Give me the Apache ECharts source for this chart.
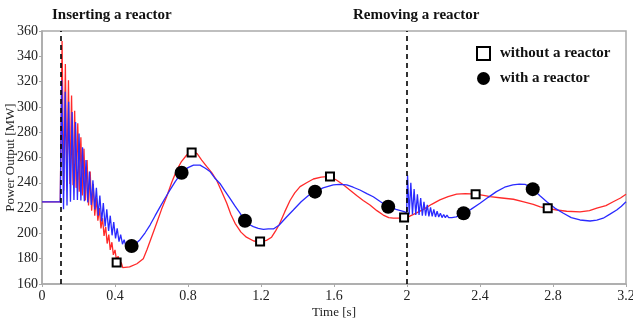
<!DOCTYPE html>
<html>
<head>
<meta charset="utf-8">
<script src="https://cdn.jsdelivr.net/npm/echarts@6/dist/echarts.min.js"></script>
<style>html,body{margin:0;padding:0;background:#fff}#c{width:633px;height:320px}</style>
</head>
<body>
<div id="c"></div>
<script>
// ---- data ----
const xTicks = [0, 0.4, 0.8, 1.2, 1.6, 2, 2.4, 2.8, 3.2];
const yTicks = [160, 180, 200, 220, 240, 260, 280, 300, 320, 340, 360];
const eventTimes = [0.1, 2.0];
const eventLabels = ['Inserting a reactor', 'Removing a reactor'];
const legendNames = ['without a reactor', 'with a reactor'];

// Power output without a reactor (red) [time s, MW]
const withoutReactor = [
  [0,225],[0.1,225],
  [0.110,352],[0.119,234],[0.128,334],[0.136,238],[0.145,321],[0.153,239],[0.162,309],[0.170,238],
  [0.179,297],[0.187,236],[0.196,287],[0.204,233],[0.213,276],[0.221,230],[0.230,267],[0.238,226],
  [0.247,258],[0.255,222],[0.264,249],[0.272,218],[0.281,239],[0.289,214],[0.298,228],[0.306,210],
  [0.315,220],[0.323,204],[0.332,212],[0.340,198],[0.349,205],[0.357,192],[0.366,199],[0.374,187],
  [0.383,193],[0.391,183],[0.400,187],[0.408,179],[0.417,182],[0.425,175],[0.434,177],[0.442,173],
  [0.45,172.5],[0.48,173.5],[0.52,176],[0.555,180],[0.575,187],[0.60,197],[0.628,208],[0.655,219],
  [0.683,229],[0.71,240],[0.738,250],[0.765,257],[0.793,262],[0.82,265],[0.85,263],[0.875,258],
  [0.902,253],[0.93,248],[0.957,242],[0.985,233],[1.012,224],[1.035,215],[1.058,208],[1.09,201],
  [1.12,197],[1.16,194],[1.195,193.5],[1.23,194.5],[1.258,197],[1.28,202],[1.30,207],[1.33,217],
  [1.359,226],[1.385,232],[1.414,237],[1.45,240],[1.487,243],[1.53,244.5],[1.578,245],[1.615,242],
  [1.651,238.5],[1.69,234],[1.724,230],[1.76,226],[1.797,222.5],[1.835,218],[1.87,214.5],[1.90,212.5],
  [1.925,212],[1.955,212],[1.984,212.5],[2.007,213],[2.05,216],[2.09,219],[2.135,223],[2.18,226.5],
  [2.225,229],[2.272,231],[2.32,231.5],[2.376,231],[2.42,230],[2.455,229],[2.52,228],[2.583,227],
  [2.64,225],[2.692,223],[2.73,221],[2.771,219.8],[2.82,218.5],[2.875,217.5],[2.948,217],[3.0,218],
  [3.04,220],[3.09,222],[3.13,225],[3.17,228],[3.2,231]
];

// Power output with a reactor (blue) [time s, MW]
const withReactor = [
  [0,225],[0.1,225],
  [0.108,321],[0.118,219],[0.127,312],[0.137,222],[0.146,304],[0.156,225],[0.165,296],[0.175,226.5],
  [0.184,288],[0.194,226.5],[0.203,279],[0.213,226],[0.222,268],[0.232,225.5],[0.241,258],[0.251,224.5],
  [0.260,249],[0.270,222.5],[0.279,242],[0.289,219],[0.298,236],[0.308,214],[0.317,230],[0.327,209.5],
  [0.336,224],[0.346,205.5],[0.355,219],[0.365,202],[0.374,214],[0.384,198.5],[0.393,209],[0.403,196],
  [0.412,204],[0.422,193.5],[0.431,199],[0.441,191.5],[0.450,195],[0.460,189.5],[0.469,192],[0.479,188.5],
  [0.491,190],[0.51,191.5],[0.537,195],[0.565,200.5],[0.592,206.6],[0.62,214],[0.647,221],[0.675,228],
  [0.70,234],[0.73,241],[0.765,248],[0.80,252],[0.83,254],[0.866,254],[0.895,251.5],[0.92,249],
  [0.945,244],[0.975,239.5],[1.0,234],[1.03,227.7],[1.058,221.5],[1.085,216],[1.112,210],[1.135,207],
  [1.158,205.3],[1.185,204],[1.213,203.2],[1.24,203.5],[1.268,203.5],[1.30,206.6],[1.34,213],[1.377,218.5],
  [1.42,225],[1.46,230],[1.496,233],[1.54,236],[1.596,238.3],[1.63,238.8],[1.67,238.3],[1.705,236.5],
  [1.742,234.3],[1.78,231.5],[1.815,229],[1.855,225],[1.897,221.1],[1.94,219],[1.984,217.2],[1.998,216.5],
  [2.003,246],[2.012,215],[2.021,240],[2.030,215],[2.039,235],[2.048,214.5],[2.057,231],[2.066,214.5],
  [2.075,228],[2.084,214],[2.093,225],[2.102,214],[2.111,222.5],[2.120,213.5],[2.129,220.5],[2.138,213.5],
  [2.147,219],[2.156,213],[2.165,217.5],[2.174,213],[2.183,216],[2.192,212.5],[2.201,215],[2.210,212.5],
  [2.219,214.5],[2.228,212.5],[2.237,214],[2.246,212.5],
  [2.27,213],[2.31,215.9],[2.35,219],[2.40,223.8],[2.445,228.5],[2.49,233],[2.535,236.5],[2.58,238.3],
  [2.615,239],[2.647,238.8],[2.689,235],[2.73,229.5],[2.766,225],[2.81,220],[2.857,215.9],[2.90,212.5],
  [2.948,210.6],[3.003,209.8],[3.04,210.5],[3.075,212],[3.11,215],[3.149,218.5],[3.175,221.5],[3.2,225]
];

// Marker positions
const withoutMarkers = [[0.409,177],[0.82,264],[1.195,193.5],[1.578,245],[1.984,212.5],[2.376,231],[2.771,219.8]];
const withMarkers = [[0.491,190],[0.765,248],[1.112,210],[1.496,233],[1.897,221.1],[2.31,215.9],[2.689,235]];

// ---- chart ----
const FONT = '"Liberation Serif", "Times New Roman", serif';
const chart = echarts.init(document.getElementById('c'), null, {renderer: 'canvas'});
chart.setOption({
  animation: false,
  backgroundColor: '#fff',
  grid: {left: 42, top: 31, right: 7, bottom: 36, containLabel: false, outerBoundsMode: 'none',
    show: true, borderColor: '#aaa', borderWidth: 1.5},
  xAxis: {
    type: 'value', min: xTicks[0], max: xTicks[xTicks.length - 1], interval: 0.4,
    name: 'Time [s]', nameLocation: 'middle', nameGap: 22, nameMoveOverlap: false,
    nameTextStyle: {fontFamily: FONT, fontSize: 13, color: '#222'},
    axisLine: {lineStyle: {color: '#aaa', width: 1.5}},
    axisTick: {show: true, length: 3, lineStyle: {color: '#aaa'}},
    splitLine: {show: false},
    axisLabel: {fontFamily: FONT, fontSize: 14, color: '#222', margin: 5,
      formatter: v => String(+v.toFixed(1))}
  },
  yAxis: {
    type: 'value', min: yTicks[0], max: yTicks[yTicks.length - 1], interval: 20,
    name: 'Power Output [MW]', nameLocation: 'middle', nameGap: 25, nameMoveOverlap: false,
    nameTextStyle: {fontFamily: FONT, fontSize: 13, color: '#222'},
    axisLine: {show: true, lineStyle: {color: '#aaa', width: 1.5}},
    axisTick: {show: true, length: 3, lineStyle: {color: '#aaa'}},
    splitLine: {show: false},
    axisLabel: {fontFamily: FONT, fontSize: 14, color: '#222', margin: 4}
  },
  legend: {
    orient: 'vertical', left: 471, top: 41, itemWidth: 13, itemHeight: 13, itemGap: 10,
    data: legendNames,
    textStyle: {fontFamily: FONT, fontSize: 15, fontWeight: 'bold', color: '#111', padding: [0, 0, 0, 5]}
  },
  graphic: [
    {type: 'text', left: 52, top: 8, style: {text: eventLabels[0], font: 'bold 15px ' + FONT, fill: '#111'}},
    {type: 'text', left: 353, top: 8, style: {text: eventLabels[1], font: 'bold 15px ' + FONT, fill: '#111'}}
  ],
  series: [
    {
      name: 'red', type: 'line', data: withoutReactor, showSymbol: false, symbol: 'none',
      lineStyle: {color: '#ff2a2a', width: 1.3}, z: 2,
      markLine: {
        silent: true, symbol: 'none', label: {show: false},
        lineStyle: {color: '#000', type: [5, 4], width: 1.6},
        data: eventTimes.map(t => ({xAxis: t}))
      }
    },
    {
      name: 'blue', type: 'line', data: withReactor, showSymbol: false, symbol: 'none',
      lineStyle: {color: '#2a2aff', width: 1.3}, z: 3
    },
    {
      name: legendNames[0], type: 'scatter', data: withoutMarkers, symbol: 'rect', symbolSize: 8,
      itemStyle: {color: '#fff', borderColor: '#000', borderWidth: 2, opacity: 1}, z: 5
    },
    {
      name: legendNames[1], type: 'scatter', data: withMarkers, symbol: 'circle', symbolSize: 14,
      itemStyle: {color: '#000', opacity: 1}, z: 5
    }
  ]
});
</script>
</body>
</html>
